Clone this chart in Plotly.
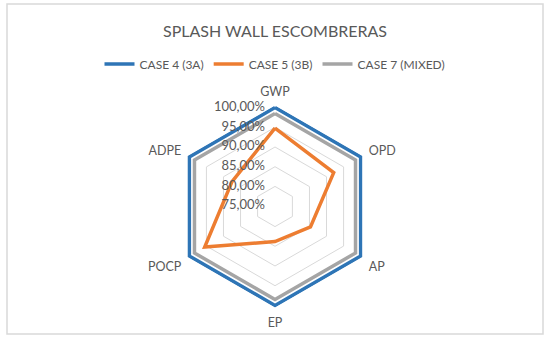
import plotly.graph_objects as go

categories = ["GWP", "OPD", "AP", "EP", "POCP", "ADPE"]
case4 = [1.00, 1.00, 1.00, 1.00, 1.00, 1.00]
case5 = [0.948, 0.921, 0.853, 0.838, 0.955, 0.875]
case7 = [0.985, 0.985, 0.985, 0.985, 0.985, 0.985]
tick_vals = [0.75, 0.80, 0.85, 0.90, 0.95, 1.00]
tick_text = ["75,00%", "80,00%", "85,00%", "90,00%", "95,00%", "100,00%"]

series = [
    ("CASE 4 (3A)", case4, "#2E75B6"),
    ("CASE 5 (3B)", case5, "#ED7D31"),
    ("CASE 7 (MIXED)", case7, "#A5A5A5"),
]

fig = go.Figure()
for name, vals, color in series:
    fig.add_trace(go.Scatterpolar(
        r=vals + vals[:1], theta=categories + categories[:1],
        mode="lines", name=name,
        line=dict(color=color, width=3.5),
    ))

# radial tick labels placed to the left of the vertical axis
fig.add_trace(go.Scatterpolar(
    r=tick_vals, theta=[categories[0]] * len(tick_vals),
    mode="text", text=[t + "   " for t in tick_text], textposition="middle left",
    textfont=dict(size=13, color="#595959"), cliponaxis=False,
    showlegend=False, hoverinfo="skip",
))

W, H = 550, 342
cx, cy, R = 275, 206.5, 98.5
rmin, rmax, rtop, rbot = 0.75, 1.0, 1.006, 0.749
Rd = R * (rtop - rbot) / (rmax - rmin)
font = "Lato, 'Open Sans', sans-serif"

fig.update_layout(
    width=W, height=H,
    margin=dict(l=0, r=0, t=0, b=0),
    paper_bgcolor="white", plot_bgcolor="white",
    font=dict(family=font, color="#595959", size=12),
    title=dict(text="SPLASH WALL ESCOMBRERAS", x=0.5, xanchor="center",
               y=1 - 31 / H, yanchor="middle",
               font=dict(size=16, color="#595959", family=font)),
    legend=dict(orientation="h", x=0.5, xanchor="center", y=1 - 64 / H, yanchor="middle",
                font=dict(size=12, color="#595959"), itemwidth=30,
                traceorder="normal"),
    polar=dict(
        domain=dict(x=[(cx - Rd) / W, (cx + Rd) / W],
                    y=[(H - cy - Rd) / H, (H - cy + Rd) / H]),
        gridshape="linear",
        bgcolor="white",
        radialaxis=dict(range=[rbot, rtop], tickvals=tick_vals, ticktext=tick_text,
                        angle=90, showticklabels=False,
                        showline=False, ticks="", gridcolor="#D9D9D9", gridwidth=1),
        angularaxis=dict(rotation=90, direction="clockwise", showgrid=False,
                         showline=False, ticks="outside", ticklen=4,
                         tickcolor="rgba(0,0,0,0)",
                         tickfont=dict(size=12.5, color="#595959")),
    ),
    shapes=[dict(type="rect", xref="paper", yref="paper",
                 x0=7 / W, x1=543 / W, y0=1 - 334 / H, y1=1 - 4 / H,
                 line=dict(color="#D9D9D9", width=1.5))],
)

fig.write_html("out.html", config={"displayModeBar": False},
               post_script="document.body.style.margin='0';document.body.style.overflow='hidden';")
